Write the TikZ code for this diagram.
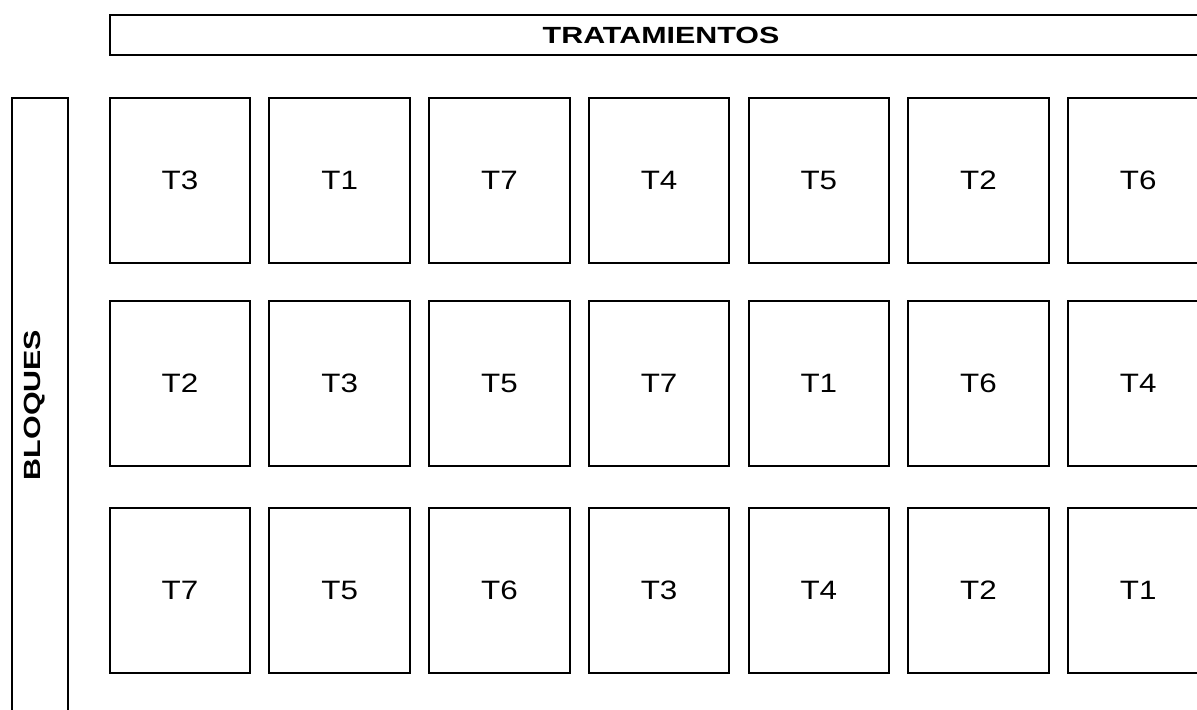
\documentclass[tikz,border=0pt]{standalone}
\usepackage{fontspec}
\setmainfont[FakeStretch=1.18]{Liberation Sans}
\newfontfamily\titlefont[FakeStretch=1.3]{Liberation Sans Bold}

\begin{document}
\begin{tikzpicture}[x=0.5pt, y=-0.5pt, line width=1pt]
    \tikzstyle{plot}=[draw, inner sep=0, minimum width=70.25pt, minimum height=82.25pt, font=\fontsize{13.3}{16}\selectfont]
    \tikzstyle{bar}=[draw, inner sep=0]
    \tikzstyle{title}=[font=\titlefont\fontsize{11.7}{14}\selectfont]
    \useasboundingbox (0,0) rectangle (1197,710);

    \node (tratamientos) [bar, title, minimum width=551pt, minimum height=20.25pt] at (661,35.25) {TRATAMIENTOS};
    \node (bloques-bar) [bar, minimum width=28pt, minimum height=350.75pt] at (40,449.25) {};
    \node (bloques) [title, rotate=90] at (35,405) {BLOQUES};

    % three blocks, seven plots each
    \foreach \t [count=\c] in {T3,T1,T7,T4,T5,T2,T6}
        \node (a-\c) [plot] at ({180+159.7*(\c-1)},180.5) {\t};
    \foreach \t [count=\c] in {T2,T3,T5,T7,T1,T6,T4}
        \node (b-\c) [plot] at ({180+159.7*(\c-1)},383.25) {\t};
    \foreach \t [count=\c] in {T7,T5,T6,T3,T4,T2,T1}
        \node (c-\c) [plot] at ({180+159.7*(\c-1)},590.5) {\t};
\end{tikzpicture}
\end{document}
